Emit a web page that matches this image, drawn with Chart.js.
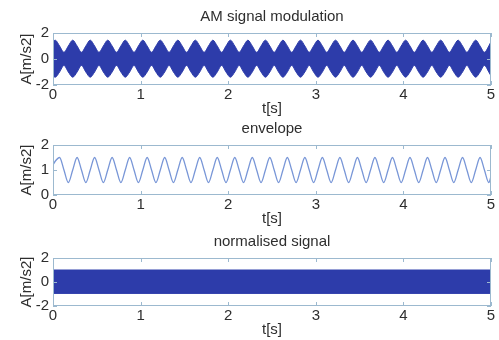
<!DOCTYPE html>
<html>
<head>
<meta charset="utf-8">
<title>AM signal</title>
<script src="https://cdn.jsdelivr.net/npm/chart.js@4.4.0/dist/chart.umd.min.js"></script>
<style>
  html, body { margin: 0; padding: 0; background: #fff; overflow: hidden; }
  body { width: 499px; height: 340px; position: relative; }
  .panel { position: absolute; left: 0; width: 499px; }
</style>
</head>
<body>
<div class="panel" style="top:0px;height:121px"><canvas id="amChart"></canvas></div>
<div class="panel" style="top:112px;height:119px"><canvas id="envChart"></canvas></div>
<div class="panel" style="top:225px;height:117px"><canvas id="normChart"></canvas></div>
<script>
// sample times [s]
const time = [
  0,
  0.025, 0.075, 0.125, 0.175, 0.225, 0.275, 0.325, 0.375, 0.425, 0.475, 0.525, 0.575, 0.625, 0.675, 0.725, 0.775, 0.825, 0.875, 0.925, 0.975,
  1.025, 1.075, 1.125, 1.175, 1.225, 1.275, 1.325, 1.375, 1.425, 1.475, 1.525, 1.575, 1.625, 1.675, 1.725, 1.775, 1.825, 1.875, 1.925, 1.975,
  2.025, 2.075, 2.125, 2.175, 2.225, 2.275, 2.325, 2.375, 2.425, 2.475, 2.525, 2.575, 2.625, 2.675, 2.725, 2.775, 2.825, 2.875, 2.925, 2.975,
  3.025, 3.075, 3.125, 3.175, 3.225, 3.275, 3.325, 3.375, 3.425, 3.475, 3.525, 3.575, 3.625, 3.675, 3.725, 3.775, 3.825, 3.875, 3.925, 3.975,
  4.025, 4.075, 4.125, 4.175, 4.225, 4.275, 4.325, 4.375, 4.425, 4.475, 4.525, 4.575, 4.625, 4.675, 4.725, 4.775, 4.825, 4.875, 4.925, 4.975,
  5
];

// AM signal: carrier swings between these upper / lower bounds
const amUpper = [
  1.35,
  1.45, 1.0, 0.52, 1.0, 1.45, 1.0, 0.52, 1.0, 1.45, 1.0, 0.52, 1.0, 1.45, 1.0, 0.52, 1.0, 1.45, 1.0, 0.52, 1.0,
  1.45, 1.0, 0.52, 1.0, 1.45, 1.0, 0.52, 1.0, 1.45, 1.0, 0.52, 1.0, 1.45, 1.0, 0.52, 1.0, 1.45, 1.0, 0.52, 1.0,
  1.45, 1.0, 0.52, 1.0, 1.45, 1.0, 0.52, 1.0, 1.45, 1.0, 0.52, 1.0, 1.45, 1.0, 0.52, 1.0, 1.45, 1.0, 0.52, 1.0,
  1.45, 1.0, 0.52, 1.0, 1.45, 1.0, 0.52, 1.0, 1.45, 1.0, 0.52, 1.0, 1.45, 1.0, 0.52, 1.0, 1.45, 1.0, 0.52, 1.0,
  1.45, 1.0, 0.52, 1.0, 1.45, 1.0, 0.52, 1.0, 1.45, 1.0, 0.52, 1.0, 1.45, 1.0, 0.52, 1.0, 1.45, 1.0, 0.52, 1.0,
  1.35
];
const amLower = [
  -1.3,
  -1.4, -1.0, -0.5, -1.0, -1.4, -1.0, -0.5, -1.0, -1.4, -1.0, -0.5, -1.0, -1.4, -1.0, -0.5, -1.0, -1.4, -1.0, -0.5, -1.0,
  -1.4, -1.0, -0.5, -1.0, -1.4, -1.0, -0.5, -1.0, -1.4, -1.0, -0.5, -1.0, -1.4, -1.0, -0.5, -1.0, -1.4, -1.0, -0.5, -1.0,
  -1.4, -1.0, -0.5, -1.0, -1.4, -1.0, -0.5, -1.0, -1.4, -1.0, -0.5, -1.0, -1.4, -1.0, -0.5, -1.0, -1.4, -1.0, -0.5, -1.0,
  -1.4, -1.0, -0.5, -1.0, -1.4, -1.0, -0.5, -1.0, -1.4, -1.0, -0.5, -1.0, -1.4, -1.0, -0.5, -1.0, -1.4, -1.0, -0.5, -1.0,
  -1.4, -1.0, -0.5, -1.0, -1.4, -1.0, -0.5, -1.0, -1.4, -1.0, -0.5, -1.0, -1.4, -1.0, -0.5, -1.0, -1.4, -1.0, -0.5, -1.0,
  -1.3
];

// detected envelope (lags the AM signal a little)
const envelope = [
  1.2,
  1.35, 1.5, 1.0, 0.5, 1.0, 1.5, 1.0, 0.5, 1.0, 1.5, 1.0, 0.5, 1.0, 1.5, 1.0, 0.5, 1.0, 1.5, 1.0, 0.5,
  1.0, 1.5, 1.0, 0.5, 1.0, 1.5, 1.0, 0.5, 1.0, 1.5, 1.0, 0.5, 1.0, 1.5, 1.0, 0.5, 1.0, 1.5, 1.0, 0.5,
  1.0, 1.5, 1.0, 0.5, 1.0, 1.5, 1.0, 0.5, 1.0, 1.5, 1.0, 0.5, 1.0, 1.5, 1.0, 0.5, 1.0, 1.5, 1.0, 0.5,
  1.0, 1.5, 1.0, 0.5, 1.0, 1.5, 1.0, 0.5, 1.0, 1.5, 1.0, 0.5, 1.0, 1.5, 1.0, 0.5, 1.0, 1.5, 1.0, 0.5,
  1.0, 1.5, 1.0, 0.5, 1.0, 1.5, 1.0, 0.5, 1.0, 1.5, 1.0, 0.5, 1.0, 1.5, 1.0, 0.5, 1.0, 1.5, 1.0, 0.5,
  0.75
];

// normalised signal: constant amplitude band
const normTime = [0, 5];
const normUpper = [1.0, 1.0];
const normLower = [-0.95, -0.95];

const xTicks = [0, 1, 2, 3, 4, 5];

const bandColor = '#2d3caa';
const lineColor = '#7896d7';
const frameColor = '#9cb9cf';
const textColor = '#2e2e2e';
const fontFamily = "'Liberation Sans', Arial, sans-serif";

const toPoints = (xs, ys) => xs.map((x, i) => ({ x: x, y: ys[i] }));

// axes box with short inward ticks
const framePlugin = {
  id: 'frame',
  afterDraw(chart) {
    const { ctx, chartArea: a, scales } = chart;
    ctx.save();
    ctx.strokeStyle = frameColor;
    ctx.lineWidth = 1;
    ctx.strokeRect(a.left + 0.5, a.top + 0.5, a.width - 1, a.height - 1);
    ctx.beginPath();
    scales.x.ticks.forEach(t => {
      const px = Math.round(scales.x.getPixelForValue(t.value)) + 0.5;
      ctx.moveTo(px, a.bottom); ctx.lineTo(px, a.bottom - 4);
      ctx.moveTo(px, a.top); ctx.lineTo(px, a.top + 4);
    });
    scales.y.ticks.forEach(t => {
      const py = Math.round(scales.y.getPixelForValue(t.value)) + 0.5;
      ctx.moveTo(a.left, py); ctx.lineTo(a.left + 4, py);
      ctx.moveTo(a.right, py); ctx.lineTo(a.right - 4, py);
    });
    ctx.stroke();
    ctx.restore();
  }
};

function makePanel(canvasId, title, datasets, yMin, yMax, yStep) {
  new Chart(document.getElementById(canvasId), {
    type: 'line',
    data: { datasets: datasets },
    options: {
      responsive: true,
      maintainAspectRatio: false,
      animation: false,
      layout: { padding: { left: 0, right: 8, top: 0, bottom: 0 } },
      elements: { point: { radius: 0 } },
      plugins: {
        legend: { display: false },
        tooltip: { enabled: false },
        title: {
          display: true,
          text: title,
          fullSize: false,
          color: textColor,
          font: { family: fontFamily, size: 15, weight: 'normal' },
          padding: { top: 8, bottom: 7 }
        }
      },
      scales: {
        x: {
          type: 'linear',
          min: 0,
          max: 5,
          afterBuildTicks: s => { s.ticks = xTicks.map(v => ({ value: v })); },
          afterFit: s => { s.height = 36; },
          grid: { display: false, drawTicks: false },
          border: { display: false },
          ticks: {
            autoSkip: false,
            maxRotation: 0,
            padding: 1,
            color: textColor,
            font: { family: fontFamily, size: 15 }
          },
          title: {
            display: true,
            text: 't[s]',
            color: textColor,
            font: { family: fontFamily, size: 15 },
            padding: { top: 0, bottom: 3 }
          }
        },
        y: {
          min: yMin,
          max: yMax,
          afterFit: s => { s.width = 53; },
          grid: { display: false, drawTicks: false },
          border: { display: false },
          ticks: {
            stepSize: yStep,
            padding: 4,
            color: textColor,
            font: { family: fontFamily, size: 15 }
          },
          title: {
            display: true,
            text: 'A[m/s2]',
            color: textColor,
            font: { family: fontFamily, size: 15 },
            padding: { top: 18, bottom: 0 }
          }
        }
      }
    },
    plugins: [framePlugin]
  });
}

makePanel('amChart', 'AM signal modulation', [
  {
    data: toPoints(time, amUpper),
    borderColor: bandColor,
    borderWidth: 1,
    cubicInterpolationMode: 'monotone',
    fill: false
  },
  {
    data: toPoints(time, amLower),
    borderColor: bandColor,
    backgroundColor: bandColor,
    borderWidth: 1,
    cubicInterpolationMode: 'monotone',
    fill: '-1'
  }
], -2, 2, 2);

makePanel('envChart', 'envelope', [
  {
    data: toPoints(time, envelope),
    borderColor: lineColor,
    borderWidth: 1.3,
    cubicInterpolationMode: 'monotone',
    fill: false
  }
], 0, 2, 1);

makePanel('normChart', 'normalised signal', [
  {
    data: toPoints(normTime, normUpper),
    borderColor: bandColor,
    borderWidth: 1,
    fill: false
  },
  {
    data: toPoints(normTime, normLower),
    borderColor: bandColor,
    backgroundColor: bandColor,
    borderWidth: 1,
    fill: '-1'
  }
], -2, 2, 2);
</script>
</body>
</html>
